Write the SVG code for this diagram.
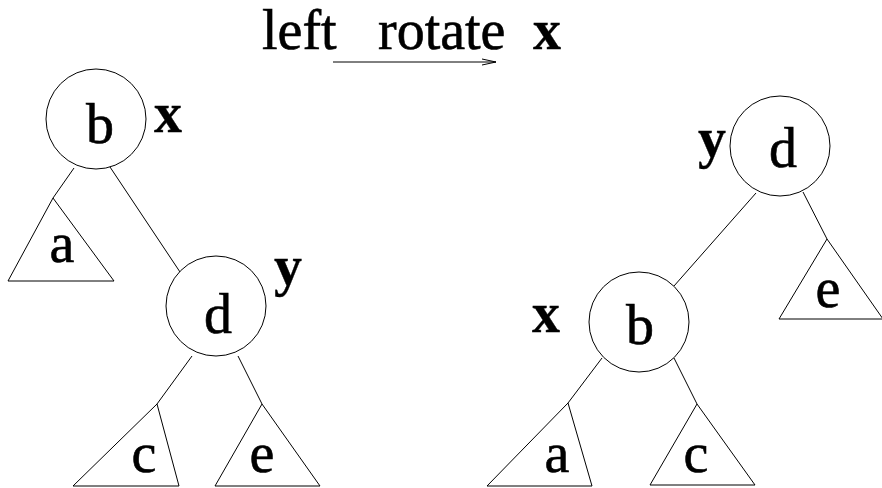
<svg xmlns="http://www.w3.org/2000/svg" width="882" height="488" viewBox="0 0 882 488">
<style>
.n{fill:none;stroke:#000;stroke-width:1}
.c{fill:none;stroke:#000;stroke-width:1}
text{font-size:56px;fill:#000;stroke:#000;stroke-width:0.6}
.t{text-anchor:middle}
.lb{font-weight:bold;stroke-width:0.3}
</style>
<defs>
<marker id="ah" markerUnits="userSpaceOnUse" markerWidth="16" markerHeight="10" refX="14" refY="4" orient="auto">
<polyline points="0,1 14,4 0,7" fill="none" stroke="#000" stroke-width="1"/>
</marker>
</defs>
<rect width="882" height="488" fill="#fff"/>
<g font-family="Liberation Serif, DejaVu Serif, serif">
<g id="title">
<text x="262" y="49">left</text>
<text x="378" y="49">rotate</text>
<text class="lb" x="533" y="49">x</text>
<line class="c" x1="333" y1="62" x2="496" y2="62" marker-end="url(#ah)"/>
</g>
<g id="connectors">
<line class="c" x1="74" y1="168" x2="53" y2="198"/>
<line class="c" x1="110" y1="167" x2="180" y2="272"/>
<line class="c" x1="192" y1="356" x2="157" y2="404"/>
<line class="c" x1="238" y1="356" x2="262" y2="404"/>
<line class="c" x1="756" y1="193" x2="674" y2="286"/>
<line class="c" x1="803" y1="192" x2="827" y2="239"/>
<line class="c" x1="602" y1="358" x2="568" y2="403"/>
<line class="c" x1="674" y1="358" x2="697" y2="404"/>
</g>
<g id="L-b">
<circle class="n" cx="96" cy="119" r="50"/>
<text class="t" x="100" y="143">b</text>
<text class="lb" x="154" y="132">x</text>
</g>
<g id="L-a">
<polygon class="n" points="53,198 8,281 114,281"/>
<text class="t" x="62" y="262">a</text>
</g>
<g id="L-d">
<circle class="n" cx="216" cy="306" r="50"/>
<text class="t" x="218" y="333">d</text>
<text class="lb" x="274" y="285">y</text>
</g>
<g id="L-c">
<polygon class="n" points="157,404 73,486 179,486"/>
<text class="t" x="144" y="472">c</text>
</g>
<g id="L-e">
<polygon class="n" points="262,404 215,486 320,486"/>
<text class="t" x="262" y="472">e</text>
</g>
<g id="R-d">
<circle class="n" cx="780" cy="146" r="50"/>
<text class="t" x="783" y="167">d</text>
<text class="lb" x="698" y="157">y</text>
</g>
<g id="R-e">
<polygon class="n" points="827,239 779,319 883,319"/>
<text class="t" x="828" y="307">e</text>
</g>
<g id="R-b">
<circle class="n" cx="639" cy="322" r="50"/>
<text class="t" x="640" y="344">b</text>
<text class="lb" x="532" y="332">x</text>
</g>
<g id="R-a">
<polygon class="n" points="568,403 487,486 592,486"/>
<text class="t" x="557" y="472">a</text>
</g>
<g id="R-c">
<polygon class="n" points="697,404 650,485 755,485"/>
<text class="t" x="696" y="472">c</text>
</g>
</g>
</svg>
